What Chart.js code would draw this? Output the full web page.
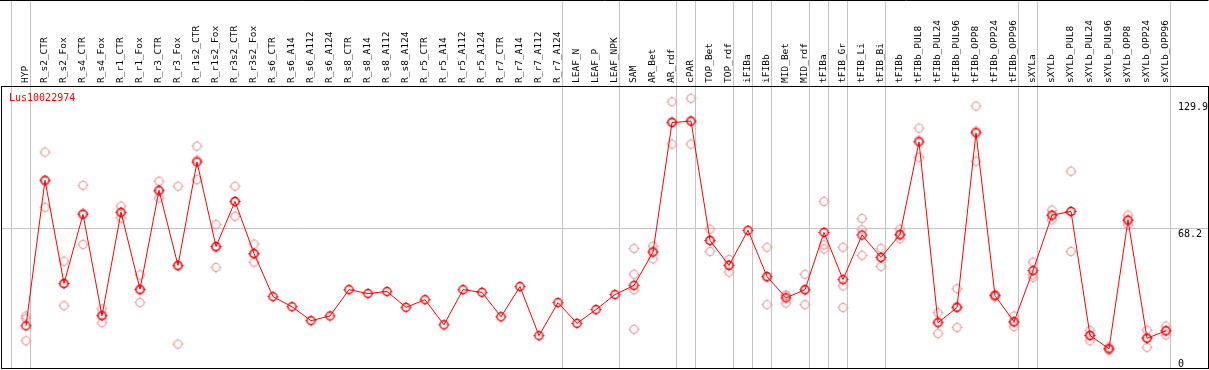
<!DOCTYPE html>
<html><head><meta charset="utf-8">
<script src="https://cdn.jsdelivr.net/npm/chart.js@4.4.0/dist/chart.umd.min.js"></script>
<style>html,body{margin:0;padding:0;background:#fff;overflow:hidden}</style>
</head><body>
<canvas id="c" width="1209" height="370"></canvas>
<script>
const geneName = 'Lus10022974';
const categories = ['HYP','R_s2_CTR','R_s2_Fox','R_s4_CTR','R_s4_Fox','R_r1_CTR','R_r1_Fox','R_r3_CTR','R_r3_Fox','R_r1s2_CTR','R_r1s2_Fox','R_r3s2_CTR','R_r3s2_Fox','R_s6_CTR','R_s6_A14','R_s6_A112','R_s6_A124','R_s8_CTR','R_s8_A14','R_s8_A112','R_s8_A124','R_r5_CTR','R_r5_A14','R_r5_A112','R_r5_A124','R_r7_CTR','R_r7_A14','R_r7_A112','R_r7_A124','LEAF_N','LEAF_P','LEAF_NPK','SAM','AR_Bet','AR_rdf','cPAR','TOP_Bet','TOP_rdf','iFIBa','iFIBb','MID_Bet','MID_rdf','tFIBa','tFIB_Gr','tFIB_Li','tFIB_Bi','tFIBb','tFIBb_PUL8','tFIBb_PUL24','tFIBb_PUL96','tFIBb_OPP8','tFIBb_OPP24','tFIBb_OPP96','sXYLa','sXYLb','sXYLb_PUL8','sXYLb_PUL24','sXYLb_PUL96','sXYLb_OPP8','sXYLb_OPP24','sXYLb_OPP96'];
const means = [20.8,91.7,41.4,75.1,25.7,76.1,38.6,86.8,50.2,100.6,59.4,81.4,56.0,35.0,30.1,23.3,25.6,38.4,36.5,37.5,29.8,33.5,21.3,38.4,37.1,25.2,39.9,16.0,32.1,22.0,28.7,36.0,40.5,56.7,119.8,120.5,62.4,50.2,67.3,44.8,34.4,38.4,66.3,43.3,65.0,54.1,65.3,110.4,22.3,29.7,114.8,35.5,22.8,47.7,74.7,76.5,16.1,9.6,72.3,14.7,18.4];
const rep1 = [25.6,105.4,52.3,89.2,29.0,79.1,45.6,91.2,88.8,108.3,70.2,88.8,60.6,null,null,null,null,null,null,null,null,null,null,null,null,null,null,null,null,null,null,null,58.5,59.6,129.9,131.6,67.9,53.1,null,59.0,35.8,45.9,81.4,59.0,73.1,58.5,67.9,117.1,27.2,38.9,127.8,35.9,25.6,51.8,77.2,96.1,18.6,10.5,74.7,18.7,20.7];
const rep2 = [13.5,78.5,30.6,60.4,22.3,73.3,32.1,83.0,11.9,92.0,49.2,74.1,51.8,null,null,null,null,null,null,null,null,null,null,null,null,null,null,null,null,null,null,null,19.1,53.4,109.3,109.3,57.0,47.0,null,31.1,31.9,31.1,58.3,29.7,55.1,49.7,63.2,102.9,17.0,20.0,101.0,34.9,20.4,44.3,72.4,57.0,13.5,9.0,70.0,10.3,16.3];
const rep3 = [24.4,91.2,41.3,75.7,26.0,75.9,38.1,86.2,49.9,101.5,58.8,81.3,55.6,null,null,null,null,null,null,null,null,null,null,null,null,null,null,null,null,null,null,null,45.9,57.1,120.2,120.5,62.3,50.5,null,44.3,35.5,38.2,60.2,40.2,67.6,54.1,64.8,111.2,22.7,30.2,115.6,35.7,22.4,45.6,74.5,76.4,16.2,9.4,72.2,15.1,18.2];
const rep4 = categories.map((c, i) => (c === 'SAM' ? 38.3 : null));
const yTickValues = [68.2, 129.9];
const yBottomTick = [0];
const separators = [-1, 0, 28, 31, 34, 35, 37, 38, 39, 41, 42, 43, 45, 52, 53, 60];

const MONO = "'DejaVu Sans Mono', monospace";
const X_MIN = -25 / 19, X_MAX = (1208 - 26) / 19;
const Y_MAX = 137.6;

function makeMarker(color, lw) {
  const s = 13, c = 6.5, r = 4;
  const cv = document.createElement('canvas');
  cv.width = s; cv.height = s;
  const g = cv.getContext('2d');
  g.strokeStyle = color; g.lineWidth = lw;
  g.beginPath(); g.arc(c, c, r, 0, Math.PI * 2); g.stroke();
  g.lineWidth = 1;
  g.beginPath();
  g.moveTo(c, c - r - 1.5); g.lineTo(c, c - r);
  g.moveTo(c, c + r); g.lineTo(c, c + r + 1.5);
  g.moveTo(c - r - 1.5, c); g.lineTo(c - r, c);
  g.moveTo(c + r, c); g.lineTo(c + r + 1.5, c);
  g.stroke();
  return cv;
}
const redMarker = makeMarker('#ff0000', 1.4);
const pinkMarker = makeMarker('#f09a9a', 1.2);

const toXY = arr => arr.map((v, i) => ({ x: i, y: v }));
const repDataset = arr => ({
  data: toXY(arr), showLine: false, pointStyle: pinkMarker, pointRadius: 5,
  borderColor: '#f09a9a', backgroundColor: '#f09a9a'
});

const framePlugin = {
  id: 'frame',
  beforeDatasetsDraw(chart) {
    const { ctx, chartArea: a, scales: { x } } = chart;
    ctx.save();
    ctx.strokeStyle = '#c4c4c4'; ctx.lineWidth = 1;
    separators.forEach(s => {
      const px = Math.round(x.getPixelForValue(s) + 4) + 0.5;
      ctx.beginPath(); ctx.moveTo(px, 0); ctx.lineTo(px, a.bottom); ctx.stroke();
    });
    ctx.restore();
  },
  afterDatasetsDraw(chart) {
    const { ctx, chartArea: a } = chart;
    ctx.save();
    ctx.strokeStyle = '#000'; ctx.lineWidth = 1;
    ctx.beginPath(); ctx.moveTo(0, 0.5); ctx.lineTo(Math.round(a.right) + 0.5, 0.5); ctx.stroke();
    ctx.strokeRect(Math.round(a.left) + 0.5, Math.round(a.top) + 0.5, Math.round(a.right) - Math.round(a.left), Math.floor(a.bottom) - Math.round(a.top));
    ctx.fillStyle = '#ff0000';
    ctx.font = '10px ' + MONO;
    ctx.textBaseline = 'alphabetic';
    ctx.fillText(geneName, 9, 100.5);
    ctx.restore();
  }
};

const noPadY = s => { s.width = 0; s.paddingTop = 0; s.paddingBottom = 0; };

new Chart(document.getElementById('c'), {
  type: 'line',
  data: {
    datasets: [
      { data: toXY(means), borderColor: '#ff0000', borderWidth: 1, tension: 0,
        pointStyle: redMarker, pointRadius: 5, backgroundColor: '#ff0000' },
      repDataset(rep1), repDataset(rep2), repDataset(rep3), repDataset(rep4)
    ]
  },
  options: {
    responsive: false, animation: false, devicePixelRatio: 1,
    layout: { autoPadding: false, padding: { left: 1, right: 1, top: 0, bottom: 1.5 } },
    plugins: { legend: { display: false }, tooltip: { enabled: false } },
    scales: {
      x: {
        type: 'linear', position: 'top', min: X_MIN, max: X_MAX, bounds: 'data',
        afterBuildTicks: s => { s.ticks = categories.map((c, i) => ({ value: i })); },
        afterFit: s => { s.height = 86; s.paddingLeft = 0; s.paddingRight = 0; },
        grid: { display: false, drawTicks: false },
        border: { display: false },
        ticks: {
          autoSkip: false, minRotation: 90, maxRotation: 90, padding: 3, labelOffset: 11,
          color: '#000', font: { family: MONO, size: 9.5 },
          callback: v => categories[v] !== undefined ? categories[v] : ''
        }
      },
      y: {
        type: 'linear', position: 'right', min: 0, max: Y_MAX,
        afterBuildTicks: s => { s.ticks = yTickValues.map(v => ({ value: v })); },
        afterFit: noPadY,
        grid: { drawTicks: false, lineWidth: 1,
          color: c => (c.tick && c.tick.value === 68.2) ? '#c4c4c4' : 'rgba(0,0,0,0)' },
        border: { display: false },
        ticks: { mirror: true, crossAlign: 'far', padding: 0, labelOffset: 6, color: '#000',
          font: { family: MONO, size: 10 }, callback: v => String(v) }
      },
      y0: {
        type: 'linear', position: 'right', min: 0, max: Y_MAX,
        afterBuildTicks: s => { s.ticks = yBottomTick.map(v => ({ value: v })); },
        afterFit: noPadY,
        grid: { display: false, drawTicks: false },
        border: { display: false },
        ticks: { mirror: true, crossAlign: 'far', padding: -24, labelOffset: -4, color: '#000',
          font: { family: MONO, size: 10 }, callback: v => String(v) }
      }
    }
  },
  plugins: [framePlugin]
});
</script>
</body></html>
